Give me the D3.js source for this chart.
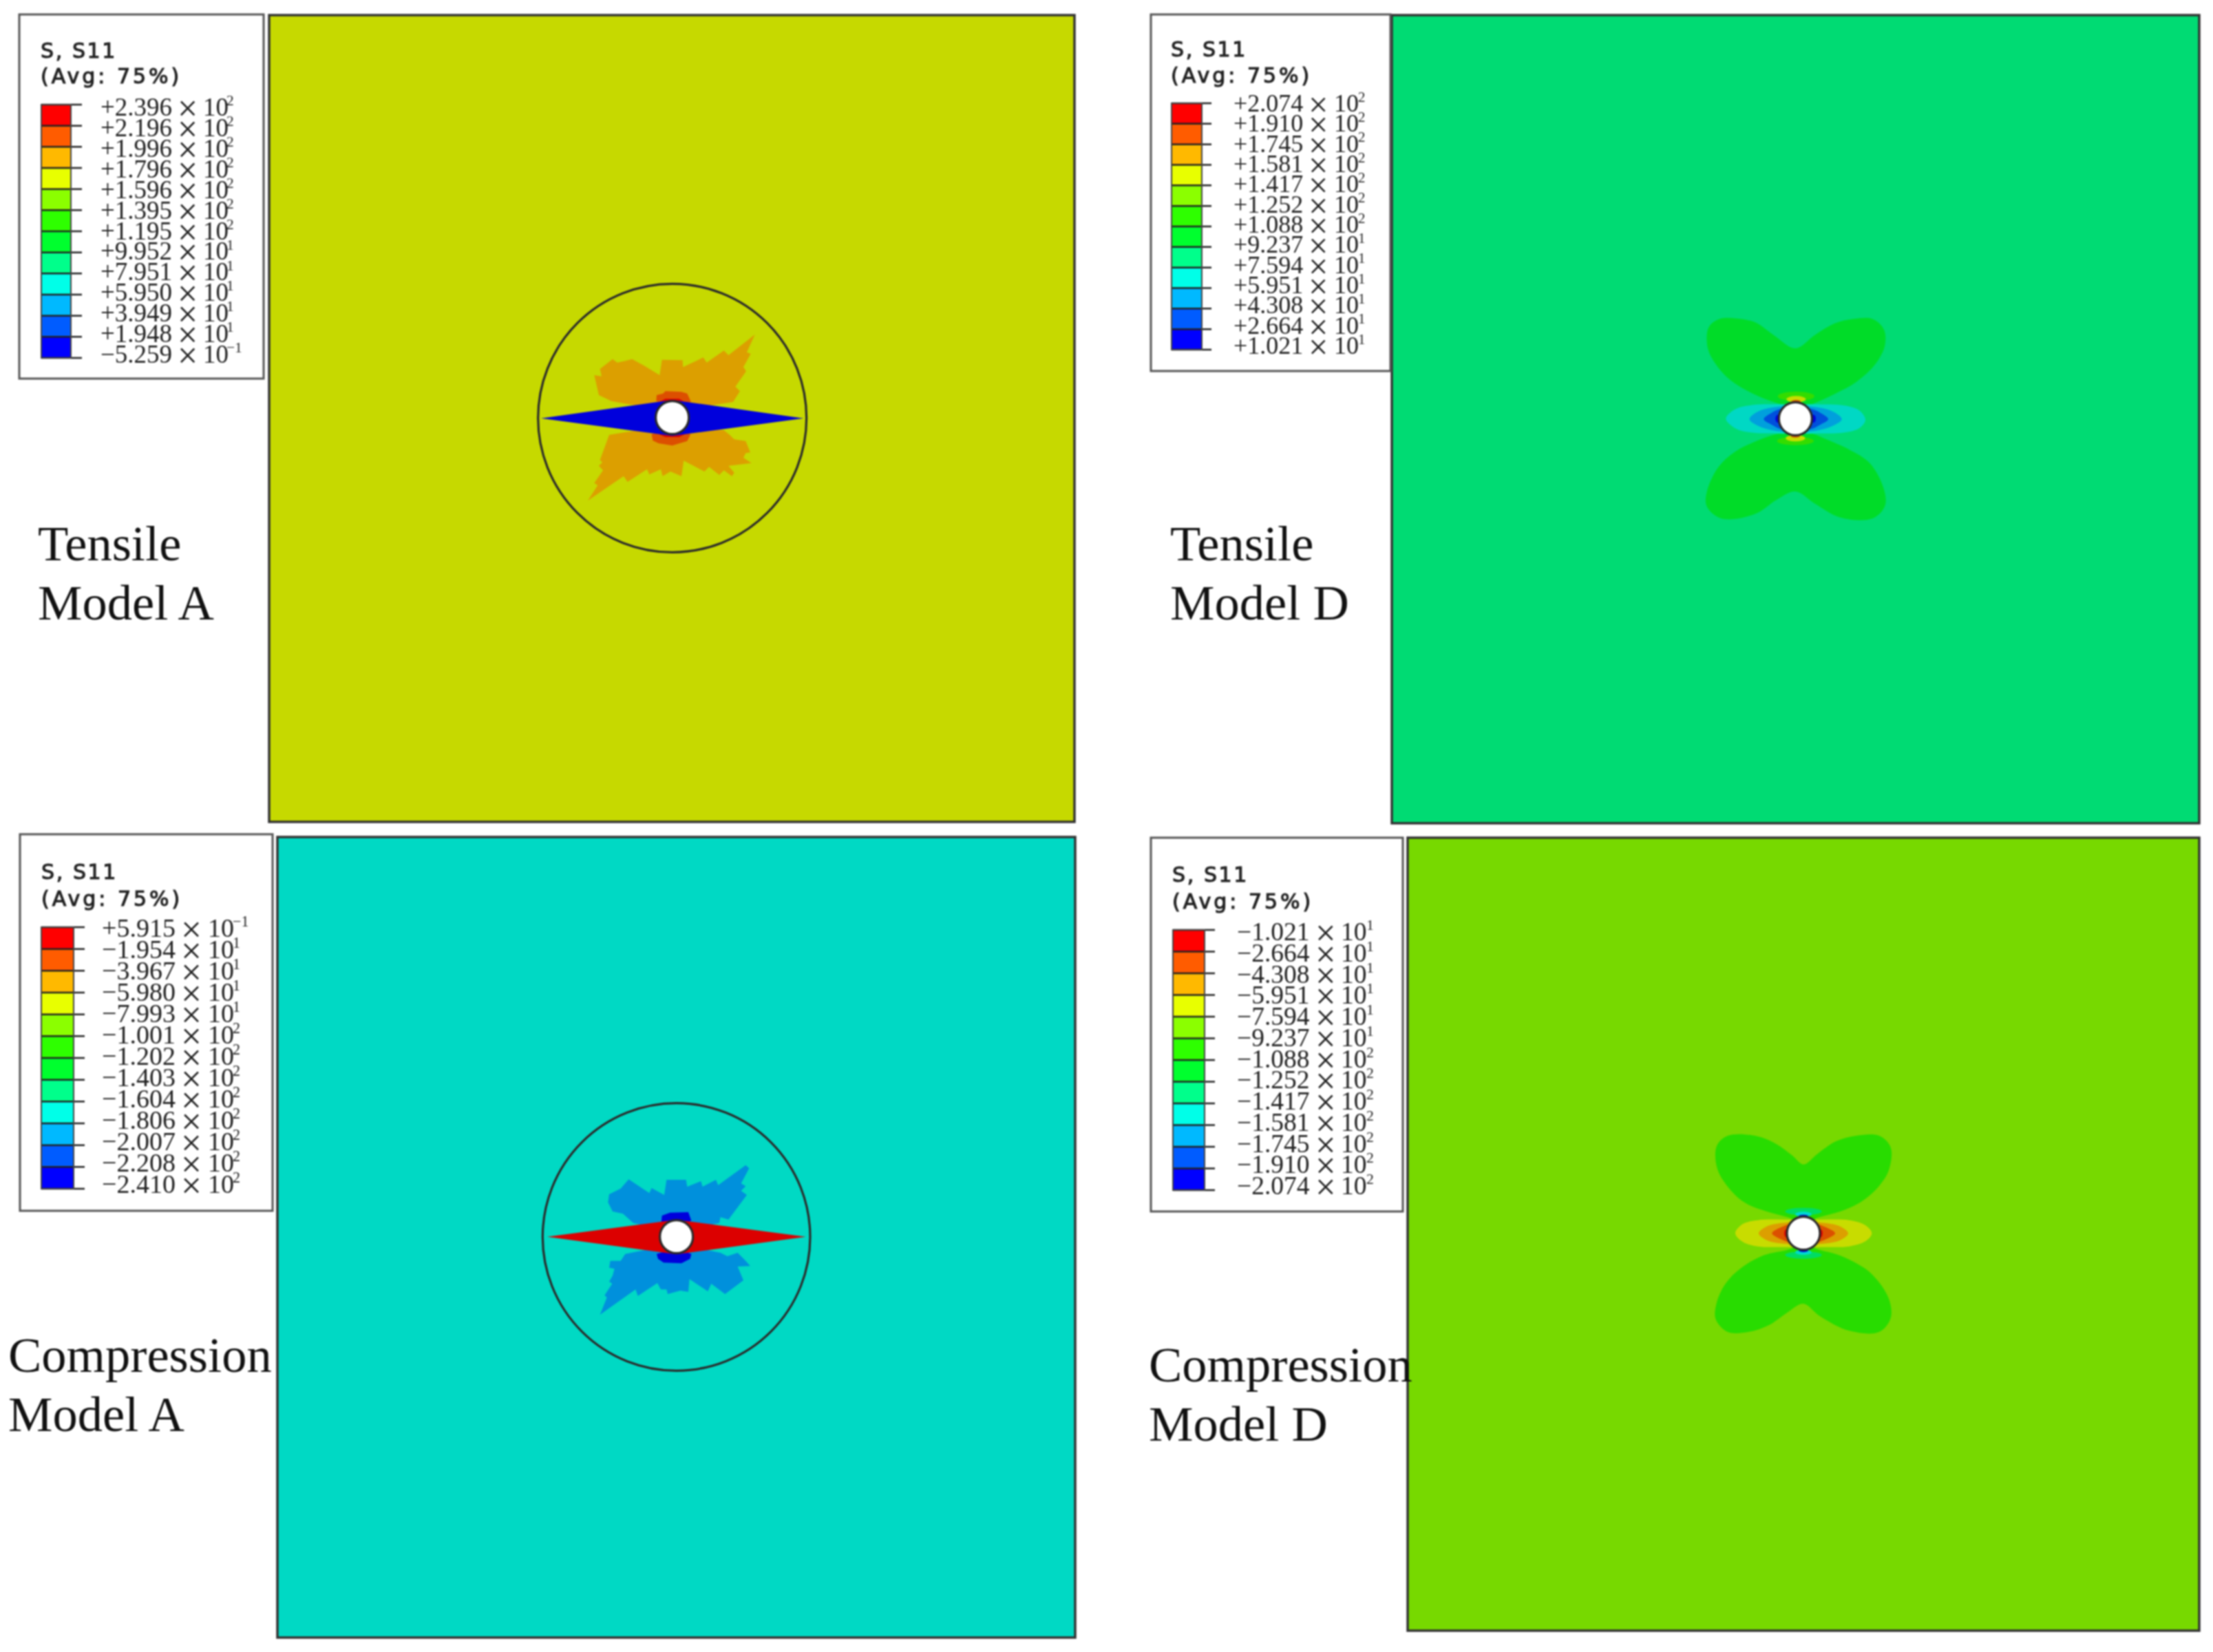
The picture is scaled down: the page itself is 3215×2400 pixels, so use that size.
<!DOCTYPE html>
<html><head><meta charset="utf-8">
<script src="https://cdn.jsdelivr.net/npm/d3@7"></script>
<style>html,body{margin:0;background:#fff}svg{display:block;filter:blur(0.8px)}</style>
</head><body><svg id="c" width="3215" height="2400"></svg>
<script>
// Abaqus contour colour keys
const legendColors = ["#ff0000","#ff5c00","#ffb900","#e8ff00","#8bff00","#2eff00","#00ff2e","#00ff8b","#00ffe8","#00b9ff","#005cff","#0000ff"];
// Legend tick labels: mantissa, exponent
const labelsTensileA = [["+2.396","2"],["+2.196","2"],["+1.996","2"],["+1.796","2"],["+1.596","2"],["+1.395","2"],["+1.195","2"],["+9.952","1"],["+7.951","1"],["+5.950","1"],["+3.949","1"],["+1.948","1"],["−5.259","−1"]];
const labelsTensileD = [["+2.074","2"],["+1.910","2"],["+1.745","2"],["+1.581","2"],["+1.417","2"],["+1.252","2"],["+1.088","2"],["+9.237","1"],["+7.594","1"],["+5.951","1"],["+4.308","1"],["+2.664","1"],["+1.021","1"]];
const labelsCompA = [["+5.915","−1"],["−1.954","1"],["−3.967","1"],["−5.980","1"],["−7.993","1"],["−1.001","2"],["−1.202","2"],["−1.403","2"],["−1.604","2"],["−1.806","2"],["−2.007","2"],["−2.208","2"],["−2.410","2"]];
const labelsCompD = [["−1.021","1"],["−2.664","1"],["−4.308","1"],["−5.951","1"],["−7.594","1"],["−9.237","1"],["−1.088","2"],["−1.252","2"],["−1.417","2"],["−1.581","2"],["−1.745","2"],["−1.910","2"],["−2.074","2"]];

// Contour outlines, in thirds of a pixel (sketch units)
const taOrangeUp = [[415,578],[360,552],[340,465],[372,470],[365,438],[420,395],[440,410],[465,405],[505,395],[560,425],[625,465],[635,398],[725,400],[727,430],[815,388],[830,410],[905,358],[925,378],[1040,288],[1005,365],[1022,372],[990,430],[1002,448],[955,515],[975,535],[945,582],[860,595],[680,620],[480,590]];
const taOrangeDown = [[405,725],[365,835],[375,845],[360,860],[378,880],[340,935],[355,945],[312,1012],[468,905],[485,930],[570,875],[580,898],[630,875],[638,905],[672,885],[720,905],[730,838],[820,885],[840,865],[885,900],[905,880],[940,905],[950,890],[925,860],[1025,848],[990,825],[1000,805],[1020,802],[1000,752],[950,745],[930,725],[905,705],[680,680]];
const taDeepUp = [[610,578],[612,552],[640,545],[650,535],[720,538],[745,545],[762,582],[680,600]];
const taDeepDown = [[590,722],[595,750],[620,762],[680,772],[745,752],[760,722],[680,700]];
const taRedUp = [[628,580],[650,568],[710,568],[730,580],[680,600]];
const taRedDown = [[622,722],[650,735],[710,735],[735,722],[680,700]];
const taDiamond = [[108,653],[680,573],[1252,653],[680,730]];

const caBlueUp = [[450,560],[405,520],[360,510],[340,470],[345,435],[395,410],[430,370],[520,430],[530,408],[585,438],[595,372],[680,372],[685,402],[745,378],[752,402],[810,372],[820,395],[940,308],[955,322],[920,388],[940,400],[920,420],[945,438],[865,545],[830,535],[825,560],[638,600]];
const caBlueDown = [[415,695],[395,725],[350,725],[345,755],[368,760],[360,790],[345,815],[358,825],[325,875],[335,885],[305,960],[460,850],[470,878],[555,822],[570,850],[595,850],[600,870],[655,855],[690,860],[695,805],[775,858],[790,825],[850,870],[930,810],[905,750],[960,748],[935,720],[905,690],[860,705],[830,690],[638,650]];
const caDeepUp = [[572,560],[575,528],[610,515],[690,513],[703,550],[638,580]];
const caDeepDown = [[552,695],[558,716],[582,733],[660,736],[698,716],[703,695],[638,670]];
const caDiamond = [[75,620],[638,546],[1202,620],[638,697]];

const tdLobeUp = [[495,470],[400,435],[300,380],[235,320],[185,235],[182,150],[200,120],[240,98],[310,98],[390,115],[470,170],[565,228],[650,170],[735,120],[820,100],[900,100],[950,145],[955,215],[915,295],[830,375],[740,425],[640,470],[565,490]];
const tdLobeDown = [[490,600],[400,630],[300,680],[230,745],[180,850],[178,915],[230,965],[300,972],[400,945],[480,890],[565,852],[650,905],[760,965],[900,970],[955,915],[950,840],[890,730],[800,670],[700,625],[640,600],[565,590]];
const tdBand1 = [[262,535],[300,495],[380,475],[500,472],[640,472],[780,478],[845,500],[870,540],[845,575],[780,595],[640,600],[500,600],[370,595],[300,575]];
const tdBand2 = [[365,537],[400,505],[480,484],[650,484],[730,505],[767,537],[730,565],[650,588],[480,588],[400,565]];
const tdBand3 = [[427,537],[460,510],[510,490],[625,490],[675,510],[708,537],[675,560],[625,582],[510,582],[460,560]];
const tdCaps = [[568,437,80,20,"#34dc00"],[568,450,42,14,"#c8dc00"],[568,460,20,7,"#dc4f00"],[565,632,80,18,"#34dc00"],[565,620,42,14,"#c8dc00"],[565,610,20,7,"#dc4f00"],[490,535,12,18,"#0000dc"],[642,535,12,18,"#0000dc"]];

const cdLobeUp = [[470,445],[380,420],[290,385],[225,330],[165,235],[162,135],[210,90],[330,90],[420,125],[490,175],[540,215],[600,170],[680,115],[770,90],[870,90],[920,140],[912,240],[860,320],[780,385],[700,420],[610,445],[540,470]];
const cdLobeDown = [[460,590],[370,610],[270,665],[200,735],[160,825],[158,890],[210,945],[300,945],[390,915],[470,860],[540,822],[610,875],[740,940],[870,945],[920,885],[912,800],[840,695],[760,640],[680,605],[620,590],[540,570]];
const cdBand1 = [[243,515],[275,475],[340,458],[470,455],[610,455],[740,458],[810,480],[838,515],[810,550],[740,572],[610,575],[470,575],[340,572],[275,552]];
const cdBand2 = [[345,515],[380,485],[470,468],[610,468],[700,485],[735,515],[700,545],[610,562],[470,562],[380,545]];
const cdBand3 = [[403,515],[440,490],[490,473],[590,473],[640,490],[678,515],[640,540],[590,557],[490,557],[440,540]];
const cdCaps = [[540,420,80,16,"#00dc64"],[540,432,36,11,"#00d8d0"],[540,441,20,7,"#0000dc"],[540,610,80,16,"#00dc64"],[540,598,36,11,"#00d8d0"],[540,590,20,7,"#0000dc"],[466,515,10,18,"#dc0000"],[614,515,10,18,"#dc0000"]];

const panels = [
 {bg:"#c6d900",x0:391,x1:1561,y0:22,y1:1194,ox:750,oy:390,c:[680,650],ring:[680,652,585],
  jag:[[taOrangeUp,"#dc9f00"],[taOrangeDown,"#dc9f00"],[taDeepUp,"#dc4f00"],[taDeepDown,"#dc4f00"],[taRedUp,"#dc0000"],[taRedDown,"#dc0000"],[taDiamond,"#0000dc"]],smooth:[],caps:[],
  leg:{labels:labelsTensileA,box:[28,21,383,550],bar:[60,103,152,520],tick:119,lx:146,off:[114,149,183],fs:37,base:[168,527],tx:59,ty:[84,121]},
  text:["Tensile","Model A"],tpos:[55,814,900]},
 {bg:"#00db73",x0:2022,x1:3195,y0:22,y1:1196,ox:2420,oy:430,c:[565,535],
  jag:[],smooth:[[tdLobeUp,"#00dc28"],[tdLobeDown,"#00dc28"],[tdBand1,"#00d8c4"],[tdBand2,"#00a0dc"],[tdBand3,"#0050dc"]],caps:tdCaps,
  leg:{labels:labelsTensileD,box:[1672,21,2020,539],bar:[1702,1746,150,508],tick:1760,lx:1792,off:[111,146,181],fs:36,base:[162,514],tx:1701,ty:[82,120]},
  text:["Tensile","Model D"],tpos:[1700,814,900]},
 {bg:"#00d9c4",x0:403,x1:1562,y0:1216,y1:2379,ox:770,oy:1590,c:[638,620],ring:[638,621,583],
  jag:[[caBlueUp,"#0090dc"],[caBlueDown,"#0090dc"],[caDeepUp,"#0000dc"],[caDeepDown,"#0000dc"],[caDiamond,"#dc0000"]],smooth:[],caps:[],
  leg:{labels:labelsCompA,box:[29,1212,396,1759],bar:[60,107,1347,1727],tick:123,lx:148,off:[117,154,190],fs:38,base:[1361,1733],tx:60,ty:[1277,1316]},
  text:["Compression","Model A"],tpos:[12,1993,2079]},
 {bg:"#77d900",x0:2045,x1:3195,y0:1217,y1:2369,ox:2440,oy:1620,c:[540,515],
  jag:[],smooth:[[cdLobeUp,"#28dc00"],[cdLobeDown,"#28dc00"],[cdBand1,"#c8dc00"],[cdBand2,"#dc9f00"],[cdBand3,"#dc5000"]],caps:cdCaps,
  leg:{labels:labelsCompD,box:[1672,1217,2038,1760],bar:[1704,1750,1351,1729],tick:1765,lx:1797,off:[116,151,188],fs:37.5,base:[1366,1735],tx:1703,ty:[1281,1320]},
  text:["Compression","Model D"],tpos:[1669,2007,2093]}
];

const svg = d3.select("#c");
const ink = "#2a2a2a";
panels.forEach(p=>{
  const g = svg.append("g");
  g.append("rect").attr("x",p.x0).attr("y",p.y0).attr("width",p.x1-p.x0).attr("height",p.y1-p.y0)
    .attr("fill",p.bg).attr("stroke","#333").attr("stroke-width",3.5);
  const sx = d3.scaleLinear().domain([0,3]).range([p.ox,p.ox+1]);
  const sy = d3.scaleLinear().domain([0,3]).range([p.oy,p.oy+1]);
  const lineJag = d3.line().x(d=>sx(d[0])).y(d=>sy(d[1])).curve(d3.curveLinearClosed);
  const lineSm = d3.line().x(d=>sx(d[0])).y(d=>sy(d[1])).curve(d3.curveCatmullRomClosed.alpha(0.5));
  p.smooth.forEach(([pts,col])=>g.append("path").attr("d",lineSm(pts)).attr("fill",col));
  p.jag.forEach(([pts,col])=>g.append("path").attr("d",lineJag(pts)).attr("fill",col));
  g.selectAll("ellipse.cap").data(p.caps).join("ellipse").attr("class","cap")
    .attr("cx",d=>sx(d[0])).attr("cy",d=>sy(d[1]))
    .attr("rx",d=>sx(d[2])-sx(0)).attr("ry",d=>sy(d[3])-sy(0)).attr("fill",d=>d[4]);
  if(p.ring) g.append("circle").attr("cx",sx(p.ring[0])).attr("cy",sy(p.ring[1])).attr("r",sx(p.ring[2])-sx(0))
    .attr("fill","none").attr("stroke",ink).attr("stroke-width",3.2);
  g.append("circle").attr("cx",sx(p.c[0])).attr("cy",sy(p.c[1])).attr("r",sx(72)-sx(0))
    .attr("fill","#fff").attr("stroke",ink).attr("stroke-width",3.2);

  // legend
  const L = p.leg, lg = svg.append("g");
  lg.append("rect").attr("x",L.box[0]).attr("y",L.box[1]).attr("width",L.box[2]-L.box[0]).attr("height",L.box[3]-L.box[1])
    .attr("fill","#fff").attr("stroke","#555").attr("stroke-width",3);
  const idx = d3.range(legendColors.length);
  const band = d3.scaleBand().domain(idx).range([L.bar[2],L.bar[3]]);
  const tickY = d3.scalePoint().domain(d3.range(13)).range([L.bar[2],L.bar[3]]);
  const baseY = d3.scalePoint().domain(d3.range(13)).range(L.base);
  lg.selectAll("rect.k").data(legendColors).join("rect").attr("class","k")
    .attr("x",L.bar[0]).attr("width",L.bar[1]-L.bar[0]).attr("y",(d,i)=>band(i)).attr("height",band.bandwidth()).attr("fill",d=>d);
  lg.selectAll("line.t").data(d3.range(13)).join("line").attr("class","t")
    .attr("x1",L.bar[0]).attr("x2",L.tick).attr("y1",d=>tickY(d)).attr("y2",d=>tickY(d)).attr("stroke","#222").attr("stroke-width",2.5);
  lg.append("rect").attr("x",L.bar[0]).attr("y",L.bar[2]).attr("width",L.bar[1]-L.bar[0]).attr("height",L.bar[3]-L.bar[2])
    .attr("fill","none").attr("stroke","#444").attr("stroke-width",2);
  [["S, S11",2.6],["(Avg: 75%)",4]].forEach(([t,ls],i)=>lg.append("text").attr("x",L.tx).attr("y",L.ty[i]).text(t)
    .attr("font-family","DejaVu Sans").attr("font-size",30).attr("letter-spacing",ls)
    .attr("fill","#222").attr("stroke","#222").attr("stroke-width",1.1));
  L.labels.forEach((lab,i)=>{
    const y = baseY(i), drop = 7;
    const t = lg.append("text").attr("y",y).attr("font-family","Liberation Serif").attr("font-size",L.fs).attr("fill","#222");
    t.append("tspan").attr("x",L.lx).text(lab[0]);
    t.append("tspan").attr("x",L.lx+L.off[0]-2).attr("dy",drop).text("×").attr("font-size",L.fs*1.4);
    t.append("tspan").attr("x",L.lx+L.off[1]).attr("dy",-drop).text("10");
    t.append("tspan").attr("x",L.lx+L.off[2]).attr("dy",-L.fs*0.4).attr("font-size",L.fs*0.58).text(lab[1]);
  });
});
// captions are drawn last so they sit above the panels
panels.forEach(p=>{
  p.text.forEach((t,i)=>svg.append("text").attr("x",p.tpos[0]).attr("y",p.tpos[i+1]).text(t)
    .attr("font-family","Liberation Serif").attr("font-size",72.5).attr("fill","#111"));
});
</script></body></html>
